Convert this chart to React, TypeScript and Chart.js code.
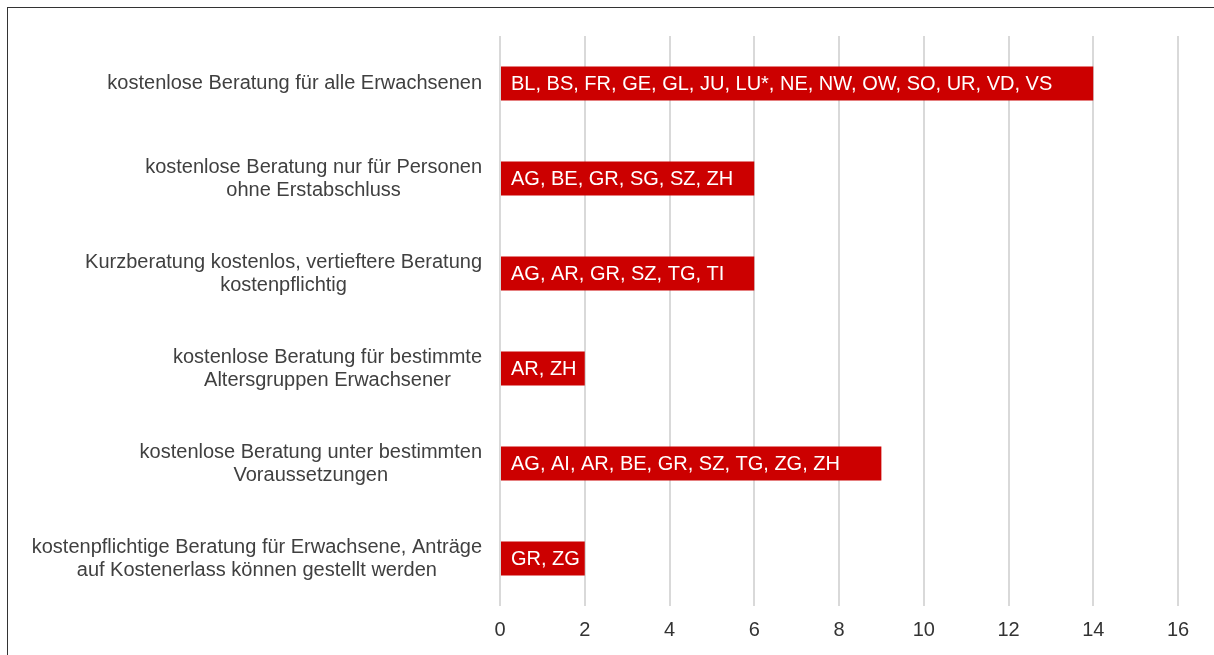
import React, { useEffect, useRef } from "react";
import { Chart, registerables } from "chart.js";

Chart.register(...registerables);

const categories: string[][] = [
  ["kostenlose Beratung für alle Erwachsenen"],
  ["kostenlose Beratung nur für Personen", "ohne Erstabschluss"],
  ["Kurzberatung kostenlos, vertieftere Beratung", "kostenpflichtig"],
  ["kostenlose Beratung für bestimmte", "Altersgruppen Erwachsener"],
  ["kostenlose Beratung unter bestimmten", "Voraussetzungen"],
  ["kostenpflichtige Beratung für Erwachsene, Anträge", "auf Kostenerlass können gestellt werden"],
];

const values: number[] = [14, 6, 6, 2, 9, 2];

const barLabels: string[] = [
  "BL, BS, FR, GE, GL, JU, LU*, NE, NW, OW, SO, UR, VD, VS",
  "AG, BE, GR, SG, SZ, ZH",
  "AG, AR, GR, SZ, TG, TI",
  "AR, ZH",
  "AG, AI, AR, BE, GR, SZ, TG, ZG, ZH",
  "GR, ZG",
];

const xTicks: number[] = [0, 2, 4, 6, 8, 10, 12, 14, 16];

const FONT = "'Liberation Sans', Arial, sans-serif";

const labelPlugin = {
  id: "customLabels",
  afterDatasetsDraw(chart: any) {
    const ctx = chart.ctx;
    const meta = chart.getDatasetMeta(0);
    const yScale = chart.scales.y;
    const area = chart.chartArea;
    ctx.save();
    ctx.font = `20px ${FONT}`;
    // bar labels
    ctx.fillStyle = "#ffffff";
    ctx.textAlign = "left";
    ctx.textBaseline = "middle";
    meta.data.forEach((bar: any, i: number) => {
      const base = bar.base;
      ctx.fillText(barLabels[i], base + 10, bar.y + 1);
    });
    // category labels: block right-aligned, lines centered within block
    ctx.fillStyle = "#404040";
    ctx.textAlign = "center";
    const lineH = 23;
    const rightEdge = area.left - 18;
    categories.forEach((lines, i) => {
      const cy = yScale.getPixelForValue(i);
      const w = Math.max(...lines.map((l) => ctx.measureText(l).width));
      const cx = rightEdge - w / 2;
      const startY = cy - ((lines.length - 1) * lineH) / 2;
      lines.forEach((l, j) => {
        ctx.fillText(l, cx, startY + j * lineH);
      });
    });
    ctx.restore();
  },
};

export default function App() {
  const ref = useRef<HTMLCanvasElement>(null);
  useEffect(() => {
    if (!ref.current) return;
    const chart = new Chart(ref.current, {
      type: "bar",
      data: {
        labels: categories.map((c) => c.join(" ")),
        datasets: [
          {
            data: values,
            backgroundColor: "#cc0000",
            borderWidth: 0,
            categoryPercentage: 1,
            barPercentage: 0.36,
          },
        ],
      },
      options: {
        indexAxis: "y",
        animation: false,
        responsive: true,
        maintainAspectRatio: false,
        layout: { padding: { left: 492, right: 36, top: 28, bottom: 1 } },
        plugins: {
          legend: { display: false },
          tooltip: { enabled: false },
        },
        scales: {
          x: {
            min: 0,
            max: 16,
            afterBuildTicks: (axis: any) => {
              axis.ticks = xTicks.map((v) => ({ value: v }));
            },
            grid: { color: "#d9d9d9", lineWidth: 2, drawTicks: false },
            border: { display: false },
            ticks: {
              padding: 14,
              color: "#333333",
              font: { family: FONT, size: 20, lineHeight: 1.0 },
            },
          },
          y: {
            display: false,
          },
        },
      },
      plugins: [labelPlugin],
    });
    return () => chart.destroy();
  }, []);
  return (
    <div
      style={{
        position: "fixed",
        left: 7,
        top: 7,
        width: 1220,
        height: 660,
        borderTop: "1px solid #333",
        borderLeft: "1px solid #333",
      }}
    >
      <div style={{ position: "relative", width: 1206, height: 647 }}>
        <canvas ref={ref} />
      </div>
    </div>
  );
}
